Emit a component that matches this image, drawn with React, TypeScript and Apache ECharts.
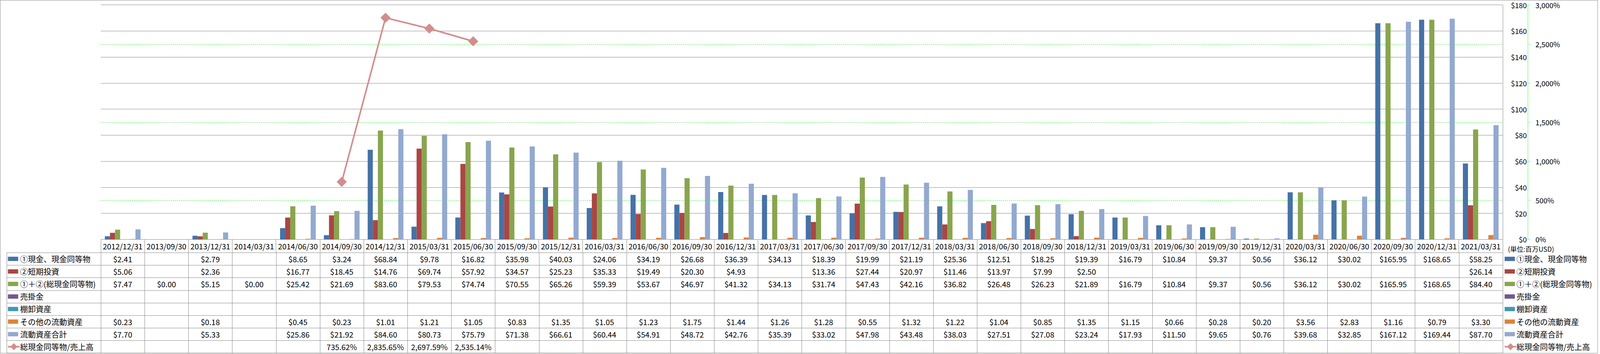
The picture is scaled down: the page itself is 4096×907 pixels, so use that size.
import React, { useEffect, useRef } from "react";
import * as echarts from "echarts";

// ---------------- data ----------------
const categories = [
  "2012/12/31", "2013/09/30", "2013/12/31", "2014/03/31", "2014/06/30", "2014/09/30",
  "2014/12/31", "2015/03/31", "2015/06/30", "2015/09/30", "2015/12/31", "2016/03/31",
  "2016/06/30", "2016/09/30", "2016/12/31", "2017/03/31", "2017/06/30", "2017/09/30",
  "2017/12/31", "2018/03/31", "2018/06/30", "2018/09/30", "2018/12/31", "2019/03/31",
  "2019/06/30", "2019/09/30", "2019/12/31", "2020/03/31", "2020/06/30", "2020/09/30",
  "2020/12/31", "2021/03/31",
];

const cash = [
  2.41, null, 2.79, null, 8.65, 3.24, 68.84, 9.78, 16.82, 35.98, 40.03, 24.06, 34.19, 26.68,
  36.39, 34.13, 18.39, 19.99, 21.19, 25.36, 12.51, 18.25, 19.39, 16.79, 10.84, 9.37, 0.56,
  36.12, 30.02, 165.95, 168.65, 58.25,
];
const shortTerm = [
  5.06, null, 2.36, null, 16.77, 18.45, 14.76, 69.74, 57.92, 34.57, 25.23, 35.33, 19.49, 20.3,
  4.93, null, 13.36, 27.44, 20.97, 11.46, 13.97, 7.99, 2.5, null, null, null, null, null, null,
  null, null, 26.14,
];
const totalCash = [
  7.47, 0.0, 5.15, 0.0, 25.42, 21.69, 83.6, 79.53, 74.74, 70.55, 65.26, 59.39, 53.67, 46.97,
  41.32, 34.13, 31.74, 47.43, 42.16, 36.82, 26.48, 26.23, 21.89, 16.79, 10.84, 9.37, 0.56,
  36.12, 30.02, 165.95, 168.65, 84.4,
];
const receivables = categories.map(() => null);
const inventory = categories.map(() => null);
const otherCurrent = [
  0.23, null, 0.18, null, 0.45, 0.23, 1.01, 1.21, 1.05, 0.83, 1.35, 1.05, 1.23, 1.75, 1.44,
  1.26, 1.28, 0.55, 1.32, 1.22, 1.04, 0.85, 1.35, 1.15, 0.66, 0.28, 0.2, 3.56, 2.83, 1.16,
  0.79, 3.3,
];
const totalCurrent = [
  7.7, null, 5.33, null, 25.86, 21.92, 84.6, 80.73, 75.79, 71.38, 66.61, 60.44, 54.91, 48.72,
  42.76, 35.39, 33.02, 47.98, 43.48, 38.03, 27.51, 27.08, 23.24, 17.93, 11.5, 9.65, 0.76,
  39.68, 32.85, 167.12, 169.44, 87.7,
];
const cashToSales = [
  null, null, null, null, null, 735.62, 2835.65, 2697.59, 2535.14, null, null, null, null, null,
  null, null, null, null, null, null, null, null, null, null, null, null, null, null, null,
  null, null, null,
];

const seriesNames = [
  "①現金、現金同等物",
  "②短期投資",
  "①＋②(総現金同等物)",
  "売掛金",
  "棚卸資産",
  "その他の流動資産",
  "流動資産合計",
  "総現金同等物/売上高",
];
const seriesColors = [
  "#4572A7", "#AA4643", "#89A54E", "#71588F", "#4198AF", "#DB843D", "#93A9CF", "#D38E8C",
];
const dollarTicks = { min: 0, max: 180, interval: 20 };
const percentTicks = { min: 0, max: 3000, interval: 500 };
const unitLabel = "(単位:百万USD)";

// ---------------- layout ----------------
const S = 0.846;
const CW = 4096;
const CH = 907;
const PLOT_L = 305 * S;
const PLOT_R = 4547 * S;
const PLOT_T = 15 * S;
const PLOT_B = 725 * S;
const HEAD_B = 765 * S;
const ROW_H = 38 * S;
const TABLE_L = 20 * S;
const GRAY = "#8a8a8a";
const GREEN = "#00ee00";
const FONT = '"Noto Sans CJK JP", "Noto Sans", sans-serif';
const TABLE_FS = 19.5;
const LEGEND_FS = 20;
const AXIS_FS = 18.4;

const fmtDollar = (v: number) => "$" + v.toFixed(2);
const fmtPct = (v: number) =>
  v.toLocaleString("en-US", { minimumFractionDigits: 2, maximumFractionDigits: 2 }) + "%";

const rows = [
  { values: cash, fmt: fmtDollar },
  { values: shortTerm, fmt: fmtDollar },
  { values: totalCash, fmt: fmtDollar },
  { values: receivables, fmt: fmtDollar },
  { values: inventory, fmt: fmtDollar },
  { values: otherCurrent, fmt: fmtDollar },
  { values: totalCurrent, fmt: fmtDollar },
  { values: cashToSales, fmt: fmtPct },
];

const px = (v: number) => Math.round(v) + 0.5;

function textEl(x: number, y: number, text: string, size: number, align: string, family = FONT) {
  return {
    type: "text",
    x,
    y,
    silent: true,
    z: 10,
    style: {
      text,
      fill: "#000",
      fontSize: size,
      fontFamily: family,
      align,
      textAlign: align,
      verticalAlign: "middle",
      textVerticalAlign: "middle",
    },
  };
}

function legendKey(k: number, x: number, yc: number) {
  const els: any[] = [];
  if (k === 7) {
    const w = 31 * S;
    els.push({
      type: "line",
      silent: true,
      z: 10,
      shape: { x1: x, y1: yc, x2: x + w + 4, y2: yc },
      style: { stroke: seriesColors[k], lineWidth: 4 },
    });
    const cx = x + (w + 4) / 2;
    const r = 9;
    els.push({
      type: "polygon",
      silent: true,
      z: 11,
      shape: { points: [[cx, yc - r], [cx + r, yc], [cx, yc + r], [cx - r, yc]] },
      style: { fill: seriesColors[k] },
    });
  } else {
    els.push({
      type: "rect",
      silent: true,
      z: 10,
      shape: { x, y: yc - 5.5, width: 31 * S, height: 11 },
      style: { fill: seriesColors[k] },
    });
  }
  return els;
}

function buildTable(chart: echarts.ECharts) {
  const cx = categories.map((_, i) => chart.convertToPixel({ xAxisIndex: 0 }, i) as number);
  const colW = cx[1] - cx[0];
  const els: any[] = [];
  const lineStyle = { stroke: GRAY, lineWidth: 1 };
  const bottom = HEAD_B + ROW_H * rows.length;

  // outer frame
  els.push({
    type: "rect",
    silent: true,
    z: 0,
    shape: { x: 0.5, y: 0.5, width: 4089.5, height: 904.5 },
    style: { fill: "none", stroke: GRAY, lineWidth: 1 },
  });

  for (let k = 0; k <= rows.length; k++) {
    const y = px(HEAD_B + k * ROW_H);
    els.push({
      type: "line",
      silent: true,
      z: 5,
      shape: { x1: px(TABLE_L), y1: y, x2: px(cx[cx.length - 1] + colW / 2), y2: y },
      style: lineStyle,
    });
  }
  const xs = [TABLE_L, cx[0] - colW / 2, ...cx.map((c) => c + colW / 2)];
  xs.forEach((x) =>
    els.push({
      type: "line",
      silent: true,
      z: 5,
      shape: { x1: px(x), y1: px(HEAD_B), x2: px(x), y2: px(bottom) },
      style: lineStyle,
    })
  );

  rows.forEach((row, k) => {
    const yc = HEAD_B + (k + 0.5) * ROW_H;
    row.values.forEach((v, i) => {
      if (v === null || v === undefined) return;
      els.push(textEl(cx[i], yc, row.fmt(v as number), TABLE_FS, "center"));
    });
    // left legend
    els.push(...legendKey(k, 24 * S, yc));
    els.push(textEl(61 * S, yc, seriesNames[k], LEGEND_FS, "left"));
    // right legend
    const rx = cx[cx.length - 1] + colW / 2 + 6 * S;
    els.push(...legendKey(k, rx, yc));
    els.push(textEl(rx + 36 * S, yc, seriesNames[k], LEGEND_FS, "left"));
  });

  // unit label
  els.push(textEl(4563 * S, 754 * S, unitLabel, 17, "left"));

  chart.setOption({ graphic: { elements: els } });
}

export default function App() {
  const ref = useRef<HTMLDivElement>(null);

  useEffect(() => {
    if (!ref.current) return;
    const chart = echarts.init(ref.current, undefined, { renderer: "svg" });

    const barData = [cash, shortTerm, totalCash, receivables, inventory, otherCurrent, totalCurrent];
    const barSeries = barData.map((d, k) => ({
      name: seriesNames[k],
      type: "bar",
      yAxisIndex: 0,
      data: d.map((v) => (v === null ? "-" : v)),
      itemStyle: { color: seriesColors[k] },
      barGap: "0%",
      barCategoryGap: "18.5%",
      z: 2,
    }));

    chart.setOption({
      animation: false,
      backgroundColor: "#ffffff",
      grid: {
        left: PLOT_L,
        right: CW - PLOT_R,
        top: PLOT_T,
        bottom: CH - PLOT_B,
        containLabel: false,
      },
      xAxis: {
        type: "category",
        data: categories,
        boundaryGap: true,
        axisLine: { show: true, lineStyle: { color: GRAY, width: 1 } },
        axisTick: {
          show: true,
          interval: 0,
          alignWithLabel: false,
          length: HEAD_B - PLOT_B,
          lineStyle: { color: GRAY, width: 1 },
        },
        axisLabel: {
          interval: 0,
          margin: (HEAD_B - PLOT_B) / 2,
          verticalAlign: "middle",
          color: "#000",
          fontSize: TABLE_FS,
          fontFamily: FONT,
        },
        splitLine: { show: false },
      },
      yAxis: [
        {
          type: "value",
          position: "right",
          min: dollarTicks.min,
          max: dollarTicks.max,
          interval: dollarTicks.interval,
          z: 1,
          axisLine: { show: true, lineStyle: { color: GRAY, width: 1 } },
          axisTick: { show: false },
          axisLabel: {
            formatter: (v: number) => "$" + v,
            align: "right",
            margin: 62,
            color: "#000",
            fontSize: AXIS_FS,
            fontFamily: FONT,
          },
          splitLine: { show: true, lineStyle: { color: GRAY, width: 1 } },
        },
        {
          type: "value",
          position: "right",
          offset: 64,
          min: percentTicks.min,
          max: percentTicks.max,
          interval: percentTicks.interval,
          z: 0,
          axisLine: { show: true, lineStyle: { color: GREEN, width: 1, type: [2.5, 2.5] } },
          axisTick: {
            show: true,
            inside: false,
            length: 7,
            lineStyle: { color: GREEN, width: 1, type: [2.5, 2.5] },
          },
          axisLabel: {
            formatter: (v: number) => v.toLocaleString("en-US") + "%",
            margin: 20,
            color: "#000",
            fontSize: AXIS_FS,
            fontFamily: FONT,
          },
          splitLine: { show: true, lineStyle: { color: GREEN, width: 1, type: [2.5, 2.5] } },
        },
      ],
      series: [
        ...barSeries,
        {
          name: seriesNames[7],
          type: "line",
          yAxisIndex: 1,
          data: cashToSales.map((v) => (v === null ? "-" : v)),
          connectNulls: false,
          symbol: "diamond",
          symbolSize: 26,
          lineStyle: { color: seriesColors[7], width: 4 },
          itemStyle: { color: seriesColors[7] },
          z: 5,
        },
      ],
    });

    buildTable(chart);

    return () => chart.dispose();
  }, []);

  return (
    <div
      ref={ref}
      style={{ position: "fixed", left: 0, top: 0, width: CW, height: CH, background: "#fff" }}
    />
  );
}
